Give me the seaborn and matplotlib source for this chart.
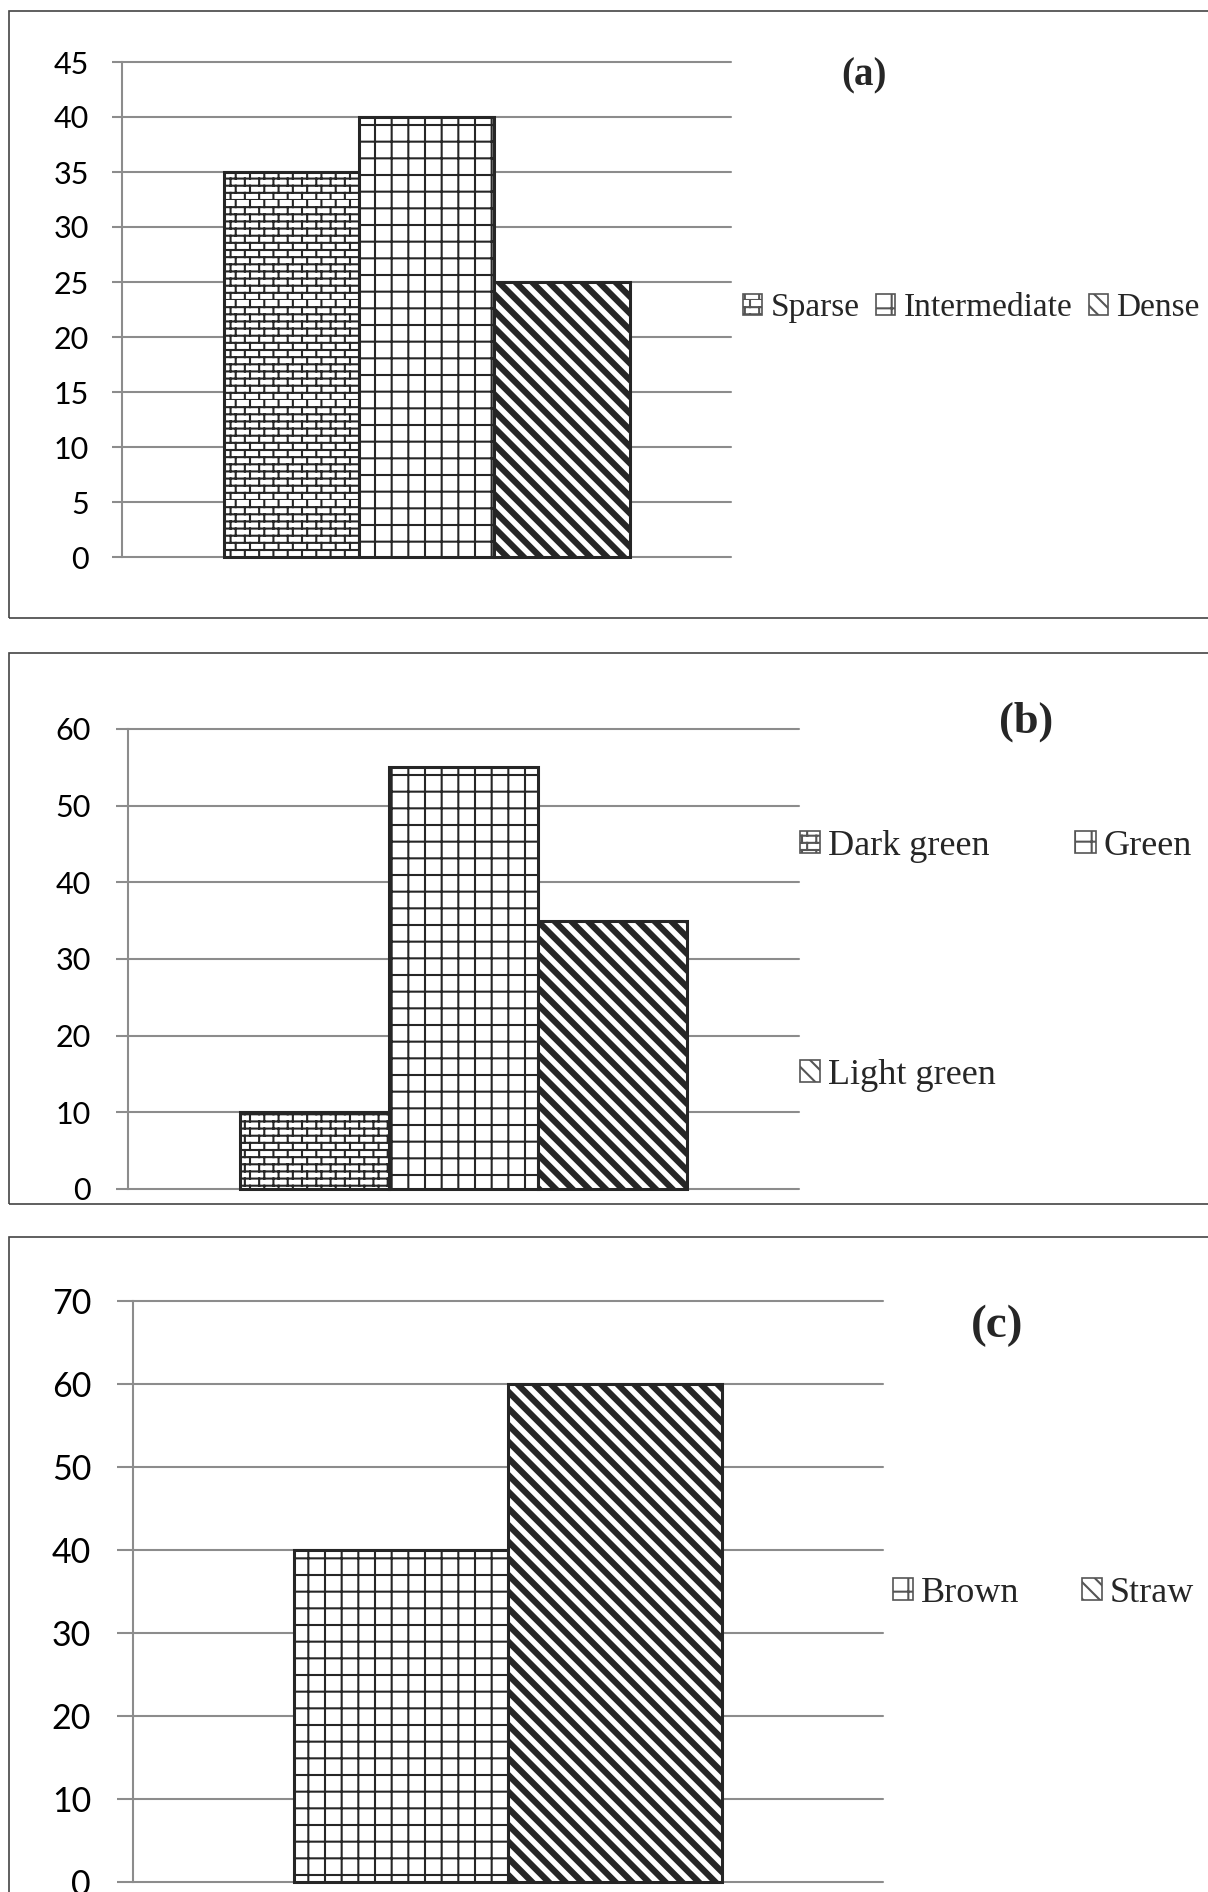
import matplotlib
matplotlib.use('Agg')
import matplotlib.pyplot as plt
from matplotlib import hatch as mhatch
from matplotlib.path import Path
from matplotlib.patches import Rectangle, Patch
import pandas as pd
import seaborn as sns

# panel (a)
a_classes = ['Sparse', 'Intermediate', 'Dense']
a_values = [35, 40, 25]
a_ticks = [0, 5, 10, 15, 20, 25, 30, 35, 40, 45]

# panel (b)
b_classes = ['Dark green', 'Green', 'Light green']
b_values = [10, 55, 35]
b_ticks = [0, 10, 20, 30, 40, 50, 60]

# panel (c)
c_classes = ['Brown', 'Straw']
c_values = [40, 60]
c_ticks = [0, 10, 20, 30, 40, 50, 60, 70]

W, H, DPI = 1208, 1892, 100
GRID = '#8c8c8c'
EDGE = '#262626'
SERIF = 'Liberation Serif'


class BrickHatch(mhatch.HatchPatternBase):
    # staggered brick courses, used in place of the '*' star hatch
    def __init__(self, hatch, density):
        self.rows = 14 * hatch.count('*')
        self.cols = 7
        self.num_vertices = self.rows * 2 * (1 + self.cols)

    def set_vertices_and_codes(self, vertices, codes):
        k = 0
        for i in range(self.rows):
            y0, y1 = i / self.rows, (i + 1) / self.rows
            vertices[k] = (0, y0)
            vertices[k + 1] = (1, y0)
            k += 2
            shift = 0.5 / self.cols if i % 2 else 0.02
            for j in range(self.cols):
                x = j / self.cols + shift
                vertices[k] = (x, y0)
                vertices[k + 1] = (x, y1)
                k += 2
        codes[0::2] = Path.MOVETO
        codes[1::2] = Path.LINETO


mhatch._hatch_types = [BrickHatch if t is mhatch.Stars else t for t in mhatch._hatch_types]

sns.set_theme(style='white')
plt.rcParams['font.family'] = ['Lato', 'DejaVu Sans']
plt.rcParams['hatch.linewidth'] = 1.5

fig = plt.figure(figsize=(W / DPI, H / DPI), dpi=DPI)


def fx(px):
    return px / W


def fy(py):
    return 1 - py / H


def frame(top, bottom):
    fig.add_artist(Rectangle((fx(9), fy(bottom)), fx(1400), fy(top) - fy(bottom),
                             transform=fig.transFigure, fill=False,
                             edgecolor='#444444', lw=1.2))


def thick_hatch(p, lw):
    draw = p.draw

    def wrapped(renderer):
        with plt.rc_context({'hatch.linewidth': lw}):
            draw(renderer)
    p.draw = wrapped
    if hasattr(p, 'set_hatch_linewidth'):
        p.set_hatch_linewidth(lw)


def panel(classes, values, hatches, ticks, box, half, tick_len, tick_size, tick_pad):
    l, t, r, b = box
    ax = fig.add_axes([fx(l), fy(b), fx(r) - fx(l), fy(t) - fy(b)])
    df = pd.DataFrame({'grp': [''] * len(classes), 'cls': classes, 'val': values})
    sns.barplot(data=df, x='grp', y='val', hue='cls', hue_order=classes,
                palette=['white'] * len(classes), edgecolor=EDGE, linewidth=2.2,
                width=0.8, legend=False, ax=ax)
    for cont, h in zip(ax.containers, hatches):
        for p in cont.patches:
            p.set_hatch(h)
            p.set_clip_on(False)
            if '\\' in h:
                thick_hatch(p, 4.5)
    ax.set_xlim(-half, half)
    ax.set_ylim(ticks[0], ticks[-1])
    ax.set_yticks(ticks)
    ax.set_xticks([])
    ax.set_xlabel('')
    ax.set_ylabel('')
    ax.yaxis.grid(True, color=GRID, lw=1.5)
    for g in ax.yaxis.get_gridlines():
        g.set_clip_on(False)
    ax.set_axisbelow(True)
    for s in ['top', 'right', 'bottom']:
        ax.spines[s].set_visible(False)
    ax.spines['left'].set_color(GRID)
    ax.spines['left'].set_linewidth(1.5)
    ax.tick_params(axis='y', left=True, length=tick_len, width=1.5, color=GRID,
                   pad=tick_pad, labelsize=tick_size, labelcolor='black')
    handles = [Patch(facecolor='white', edgecolor='#555555', lw=1.2, hatch=h) for h in hatches]
    return ax, handles


brick, grid, diag = '*', '+', '\\\\'

# (a)
frame(11, 618)
ax_a, h_a = panel(a_classes, a_values, [brick, grid, diag], a_ticks,
                  (122, 62, 731, 557), 0.6, 7.2, 22, 16.5)
ax_a.legend(h_a, a_classes, loc='center left', bbox_to_anchor=(fx(743), fy(308)),
            bbox_transform=fig.transFigure, ncol=3, frameon=False,
            prop={'family': SERIF, 'size': 24}, handlelength=0.57, handleheight=0.57,
            handletextpad=0.25, columnspacing=0.5, borderpad=0, borderaxespad=0)
fig.text(fx(864), fy(76), '(a)', ha='center', va='center', family=SERIF,
         weight='bold', size=28)

# (b)
frame(653, 1204)
ax_b, h_b = panel(b_classes, b_values, [brick, grid, diag], b_ticks,
                  (128, 729, 799, 1189), 0.6, 8.6, 22, 18)
order = [0, 2, 1]
ax_b.legend([h_b[i] for i in order], [b_classes[i] for i in order], loc='center left',
            bbox_to_anchor=(fx(800), fy(961)), bbox_transform=fig.transFigure,
            ncol=2, frameon=False, prop={'family': SERIF, 'size': 26},
            handlelength=0.56, handleheight=0.56, handletextpad=0.22,
            columnspacing=2.2, labelspacing=5.42, borderpad=0, borderaxespad=0)
fig.text(fx(1026), fy(722), '(b)', ha='center', va='center', family=SERIF,
         weight='bold', size=32)

# (c)
frame(1237, 1990)
ax_c, h_c = panel(c_classes, c_values, [grid, diag], c_ticks,
                  (133, 1301, 883, 1882), 0.7, 11.5, 24.5, 18.7)
ax_c.legend(h_c, c_classes, loc='center left', bbox_to_anchor=(fx(893), fy(1593)),
            bbox_transform=fig.transFigure, ncol=2, frameon=False,
            prop={'family': SERIF, 'size': 26}, handlelength=0.56, handleheight=0.56,
            handletextpad=0.22, columnspacing=1.72, borderpad=0, borderaxespad=0)
fig.text(fx(997), fy(1326), '(c)', ha='center', va='center', family=SERIF,
         weight='bold', size=34)

fig.savefig('out.png', dpi=DPI)
